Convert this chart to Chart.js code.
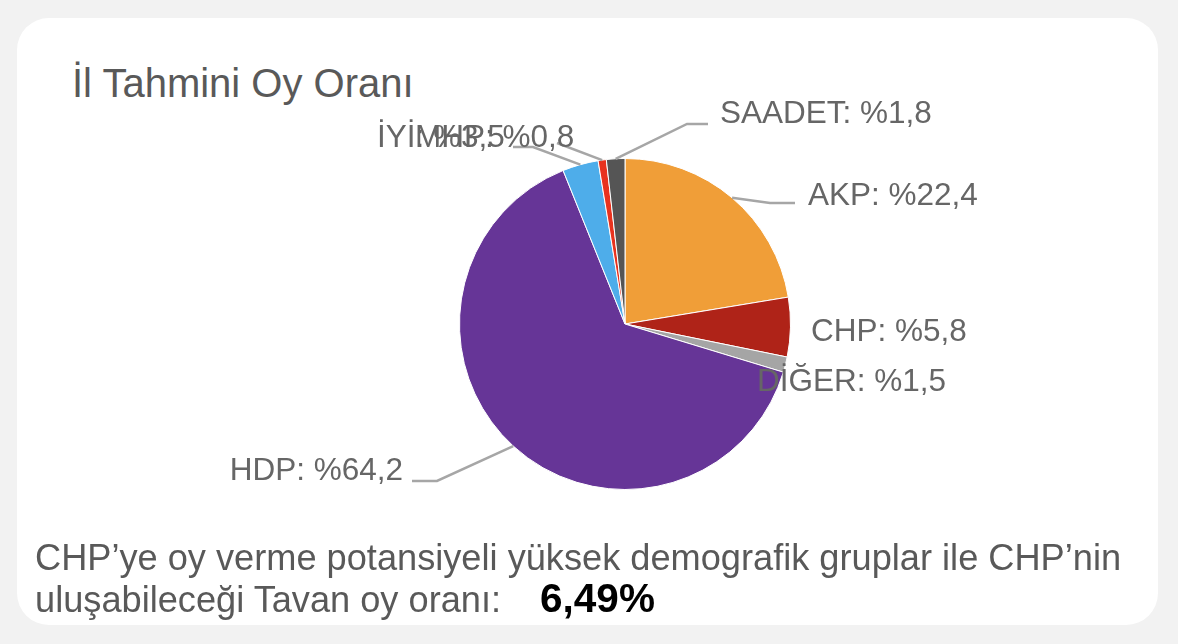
<!DOCTYPE html>
<html>
<head>
<meta charset="utf-8">
<script src="https://cdn.jsdelivr.net/npm/chart.js@4"></script>
<style>
  html, body { margin: 0; padding: 0; }
  body { width: 1178px; height: 644px; background: #f2f2f2; position: relative; overflow: hidden;
         font-family: "Liberation Sans", Arial, sans-serif; }
  .card { position: absolute; left: 17px; top: 18px; width: 1141px; height: 607px;
          background: #ffffff; border-radius: 32px; }
  .title { position: absolute; left: 72px; top: 63px; font-size: 40px; line-height: 40px;
           color: #595959; white-space: nowrap; }
  .foot { position: absolute; left: 35px; font-size: 36.2px; line-height: 41px;
          color: #595959; white-space: nowrap; }
  .foot b { color: #000; font-size: 40.5px; line-height: 41px; margin-left: 39px; }
  #wrap { position: absolute; left: 0; top: 0; width: 1178px; height: 644px; }
</style>
</head>
<body>
<div class="card"></div>
<div class="title">İl Tahmini Oy Oranı</div>
<div id="wrap"><canvas id="chartVotes"></canvas></div>
<div class="foot" style="top:537px">CHP’ye oy verme potansiyeli yüksek demografik gruplar ile CHP’nin</div>
<div class="foot" style="top:578px">uluşabileceği Tavan oy oranı:<b>6,49%</b></div>

<script>
(function () {

// ── data ─────────────────────────────────────────────────────────────────
var parties = ['AKP', 'CHP', 'DİĞER', 'HDP', 'İYİ', 'MHP', 'SAADET'];
var shares  = [22.4, 5.8, 1.5, 64.2, 3.5, 0.8, 1.8];
var colors  = ['#f09e38', '#af2318', '#a5a5a5', '#663597', '#4eadea', '#e8321e', '#555555'];

// label placement relative to pie centre (text x/y baseline, optional leader elbow/end)
var labelLayout = [
    { tx: 183,  ty: -119, align: 'left',  elbow: [145, -121], end: [170, -121] },
    { tx: 186,  ty: 17,   align: 'left' },
    { tx: 132,  ty: 67,   align: 'left' },
    { tx: -222, ty: 156,  align: 'right', elbow: [-188, 157], end: [-213, 157] },
    { tx: -248, ty: -177, align: 'left',  elbow: [-92, -177], end: [-112, -177] },
    { tx: -210, ty: -177, align: 'left',  elbow: [-68, -181], end: [-68, -181] },
    { tx: 95,   ty: -201, align: 'left',  elbow: [62, -200],  end: [83, -200] }
];

function fmt(v) { return '%' + String(v).replace('.', ','); }

// ── outside labels with leader lines ─────────────────────────────────────
var pieLabels = {
    id: 'pieLabels',
    afterDatasetsDraw: function (chart) {
        var ctx = chart.ctx;
        var arcs = chart.getDatasetMeta(0).data;
        ctx.save();
        // leader lines first, so text sits on top
        ctx.strokeStyle = '#a6a6a6';
        ctx.lineWidth = 2.5;
        arcs.forEach(function (arc, i) {
            var L = labelLayout[i];
            if (!L.elbow) return;
            var mid = (arc.startAngle + arc.endAngle) / 2;
            var sx = arc.x + Math.cos(mid) * arc.outerRadius;
            var sy = arc.y + Math.sin(mid) * arc.outerRadius;
            ctx.beginPath();
            ctx.moveTo(sx, sy);
            ctx.lineTo(arc.x + L.elbow[0], arc.y + L.elbow[1]);
            ctx.lineTo(arc.x + L.end[0], arc.y + L.end[1]);
            ctx.stroke();
        });
        ctx.font = '31.5px "Liberation Sans", Arial, sans-serif';
        ctx.fillStyle = '#666666';
        ctx.textBaseline = 'alphabetic';
        arcs.forEach(function (arc, i) {
            var L = labelLayout[i];
            ctx.textAlign = L.align;
            ctx.fillText(parties[i] + ': ' + fmt(shares[i]), arc.x + L.tx, arc.y + L.ty);
        });
        ctx.restore();
    }
};

new Chart(document.getElementById('chartVotes'), {
    type: 'pie',
    data: {
        labels: parties,
        datasets: [{
            data: shares,
            backgroundColor: colors,
            borderColor: '#ffffff',
            borderWidth: 1
        }]
    },
    options: {
        responsive: true,
        maintainAspectRatio: false,
        animation: false,
        layout: { padding: { left: 459, right: 387, top: 158, bottom: 154 } },
        plugins: { legend: { display: false }, tooltip: { enabled: false } }
    },
    plugins: [pieLabels]
});

}());
</script>
</body>
</html>
